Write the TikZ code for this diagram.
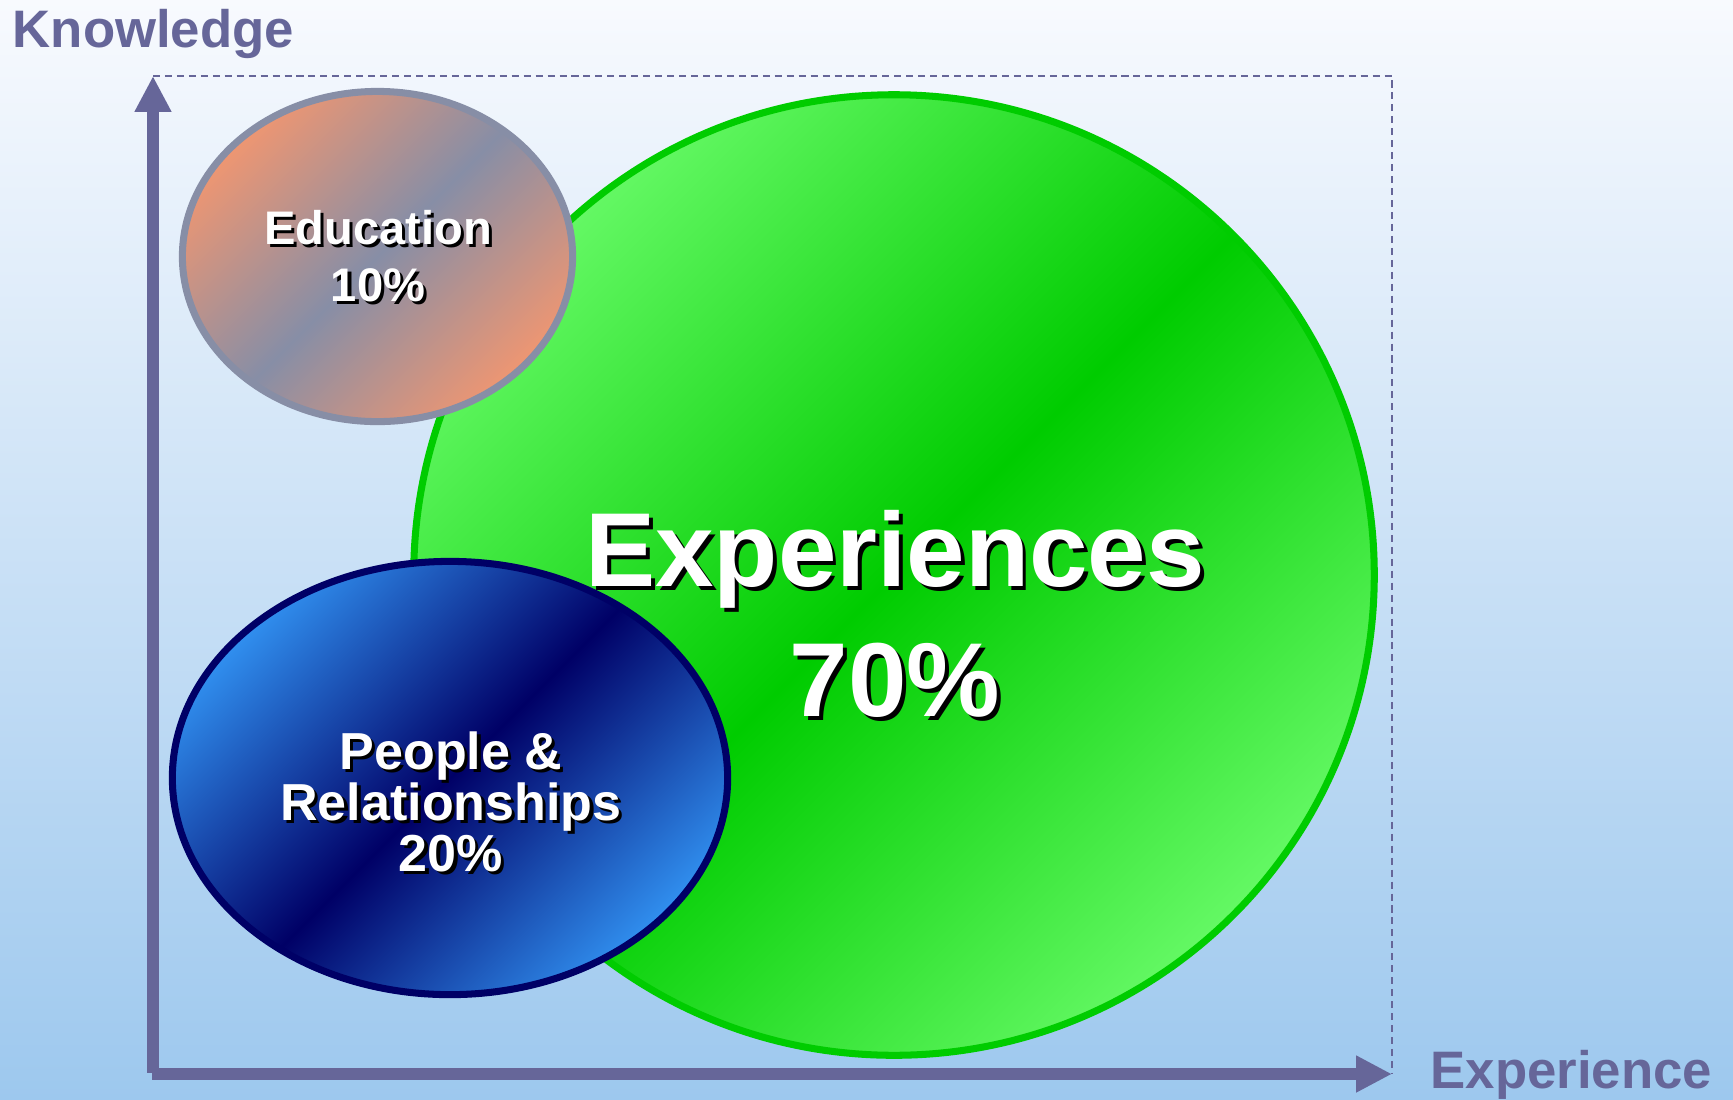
\documentclass[tikz,border=0pt]{standalone}
\usepackage{fontspec}
\setmainfont{Liberation Sans}
\usetikzlibrary{arrows.meta,shapes.geometric}

\definecolor{axisblue}{RGB}{102,102,153}
\definecolor{skytop}{RGB}{248,250,254}
\definecolor{skybottom}{RGB}{157,200,238}
\definecolor{expedge}{RGB}{100,248,100}
\definecolor{expmid}{RGB}{0,204,0}
\definecolor{eduedge}{RGB}{238,150,114}
\definecolor{edumid}{RGB}{135,142,166}
\definecolor{peopleedge}{RGB}{48,142,238}
\definecolor{peoplemid}{RGB}{0,0,102}

\tikzset{
	x=0.01cm, y=-0.01cm, % one unit per pixel, y grows downwards
	axis arrow/.style={draw=axisblue, line width=3.4pt, -{Triangle[length=10.2pt,width=9.8pt]}},
	frame/.style={draw=axisblue, line width=0.65pt, dash pattern=on 2pt off 1.4pt},
	% diagonal fill: light corners, dark band through the middle
	blob/.style 2 args={ellipse, inner sep=0pt, top color=#1, bottom color=#1, middle color=#2, shading angle=45},
	axis label/.style={text=axisblue, font=\fontsize{15}{17}\selectfont\bfseries, inner sep=0pt, anchor=base west},
	blob label/.style={align=center, inner sep=0pt},
}

% white text with a black drop shadow: name, position, offset, font, text
\newcommand{\shadowlabel}[5]{%
	\node[blob label, font=#4, text=black, xshift=#3, yshift=-#3] (#1 shadow) at #2 {#5};
	\node[blob label, font=#4, text=white] (#1) at #2 {#5};
}

\begin{document}
\begin{tikzpicture}
	\useasboundingbox (0,0) rectangle (1733,1099);
	\shade[top color=skytop, bottom color=skybottom] (0,0) rectangle (1733,1099);

	% axes and the dashed frame
	\coordinate (origin) at (153,1074);
	\coordinate (ytip) at (153,76);
	\coordinate (xtip) at (1392,1074);
	\coordinate (corner) at (1392,76);
	\draw[frame] (ytip) -- (corner) -- (xtip);
	\draw[axis arrow] ([yshift=0.3pt]origin) -- (ytip);
	\draw[axis arrow] ([xshift=-0.3pt]origin) -- (xtip);
	\node[axis label] (knowledge) at (12,47) {Knowledge};
	\node[axis label] (experience) at (1430,1088) {Experience};

	% the three areas
	\node[blob={expedge}{expmid}, minimum width=9.6cm, minimum height=9.6cm,
		draw=expmid, line width=2pt] (exp) at (894,575) {};
	\node[blob={eduedge}{edumid}, minimum width=3.9cm, minimum height=3.3cm,
		draw=edumid, line width=2pt] (edu) at (377.5,256.5) {};
	\node[blob={peopleedge}{peoplemid}, minimum width=5.55cm, minimum height=4.33cm,
		draw=peoplemid, line width=2pt] (people) at (450,778) {};

	\shadowlabel{exp text}{(895,614)}{1.1pt}{\fontsize{29.9}{37}\selectfont\bfseries}{Experiences\\70\%}
	\shadowlabel{edu text}{(378,256)}{0.9pt}{\fontsize{13.4}{16.2}\selectfont\bfseries}{Education\\10\%}
	\shadowlabel{people text}{(451,802)}{0.9pt}{\fontsize{14.8}{14.5}\selectfont\bfseries}{People \&\\Relationships\\20\%}
\end{tikzpicture}
\end{document}
